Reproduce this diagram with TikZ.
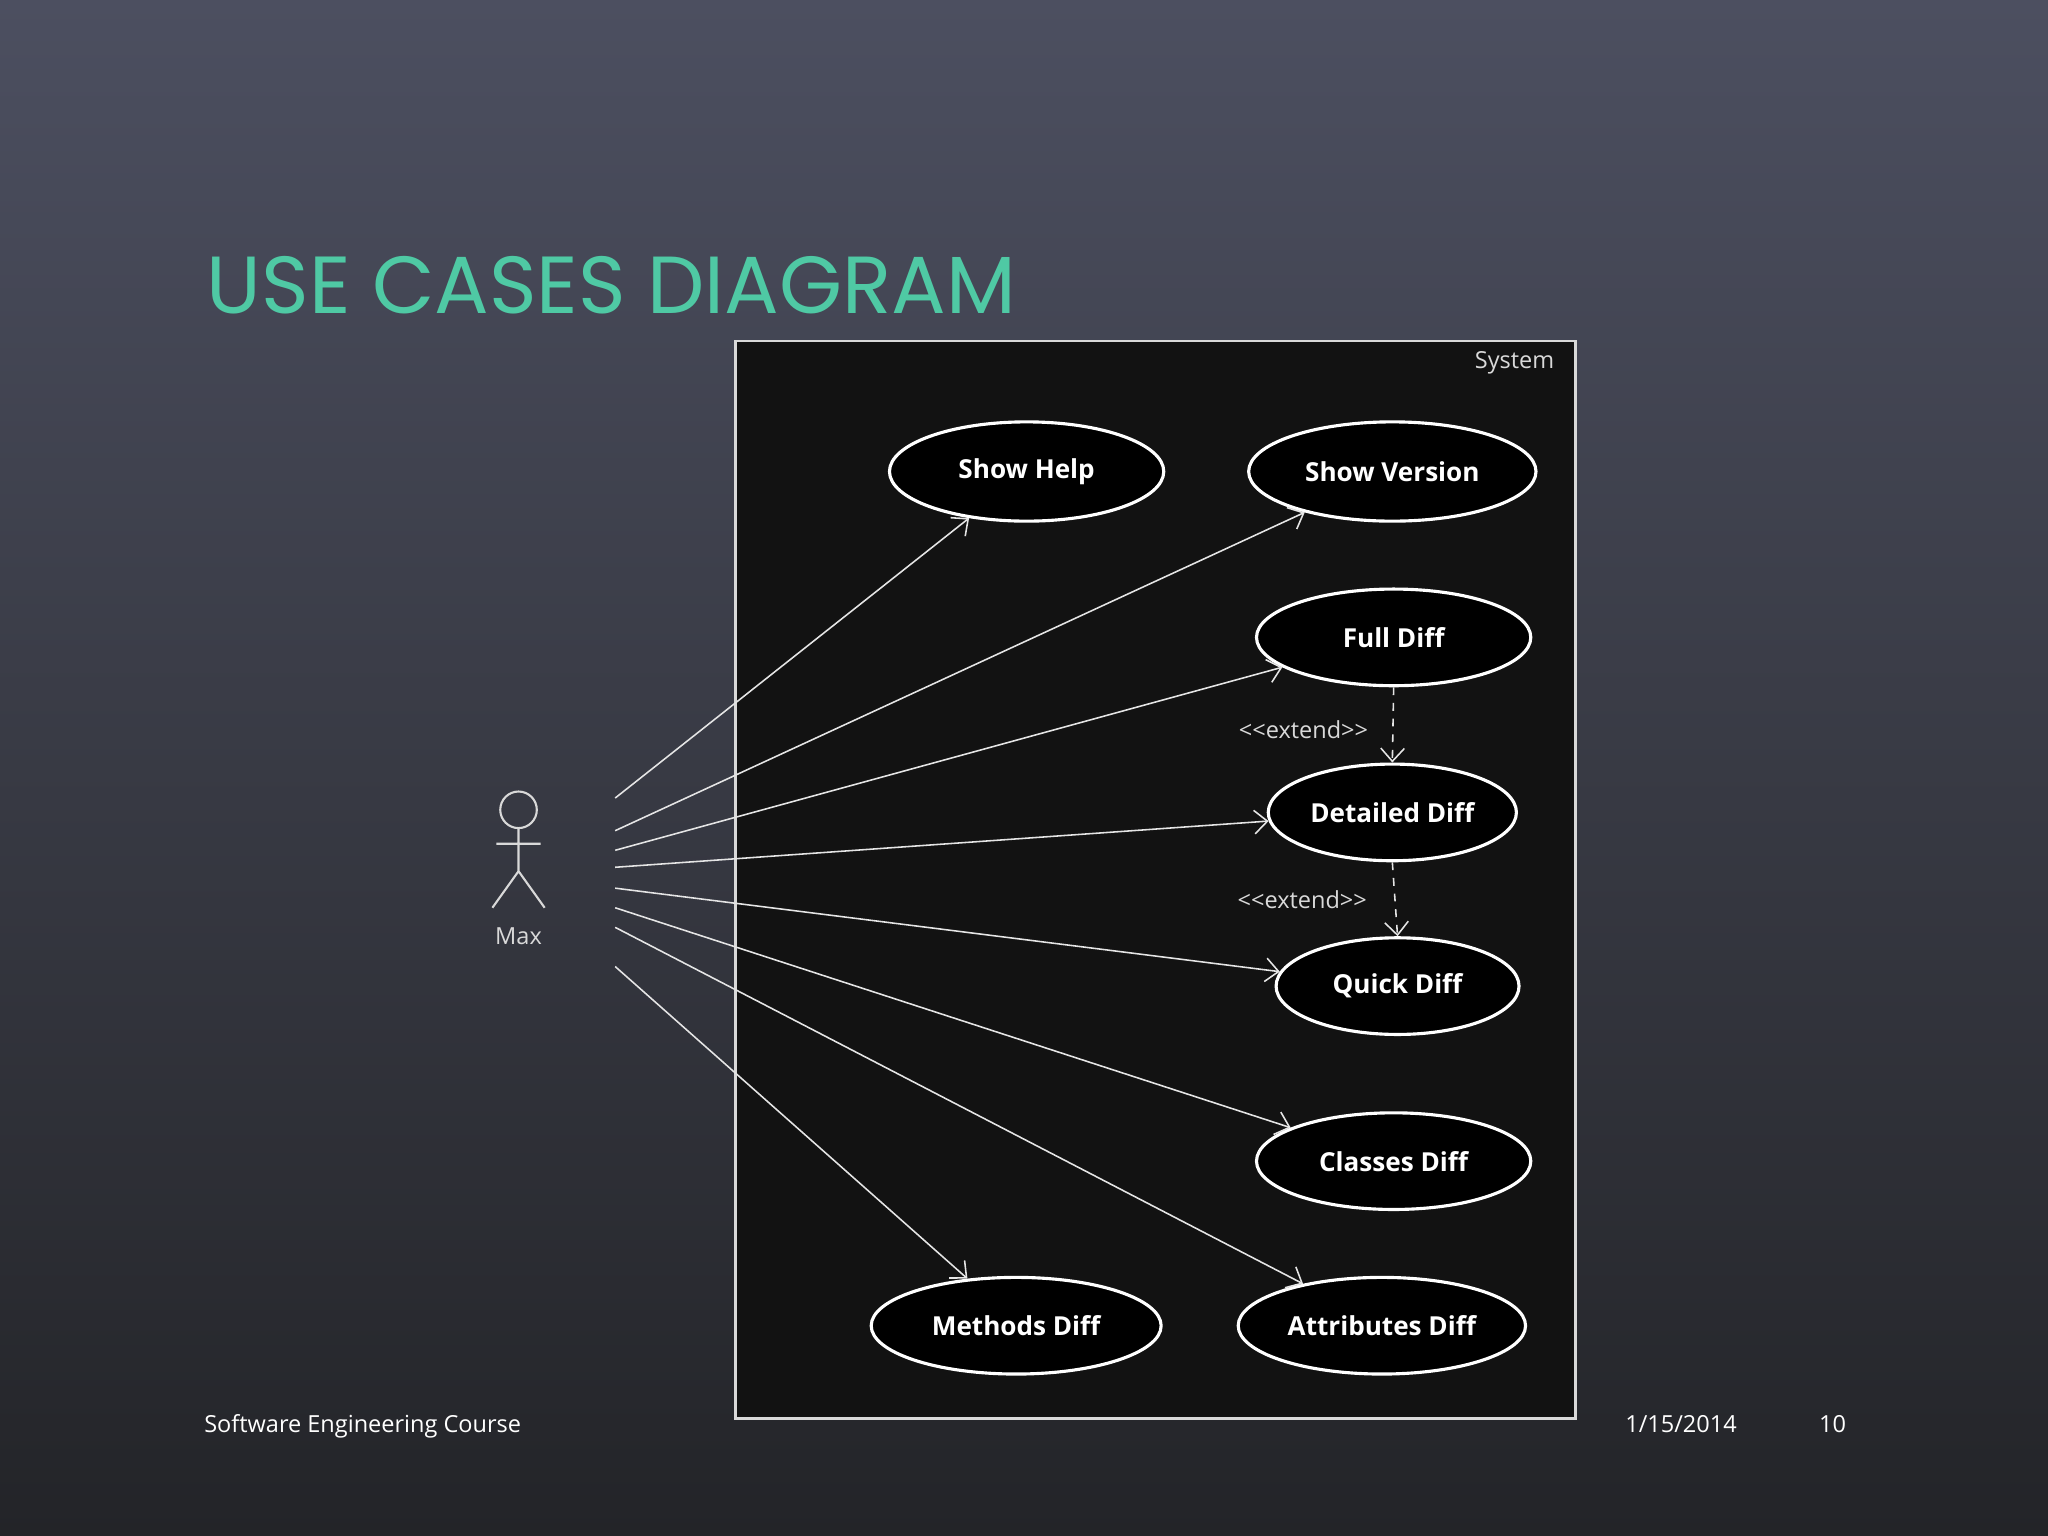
\documentclass[tikz,border=0pt]{standalone}
\usepackage{fontspec}
\setmainfont{Open Sans}
\newfontfamily\titlefont{Poppins}
\usetikzlibrary{shapes.geometric,arrows.meta}
\definecolor{teal1}{HTML}{4FC9A4}
\definecolor{bgtop}{HTML}{4C4F60}
\definecolor{bgmid}{HTML}{383A44}
\definecolor{bgbot}{HTML}{232428}
\begin{document}
\begin{tikzpicture}[x=0.5pt,y=-0.5pt,
  uc/.style={draw=white,line width=1.2pt,fill=black,ellipse,inner sep=0pt,text=white,font=\bfseries\fontsize{10}{12}\selectfont},
  assoc/.style={draw=white!90!black,line width=0.6pt,-{Straight Barb[length=5pt,width=9pt]}},
  ext/.style={draw=white!90!black,line width=0.6pt,dashed,-{Straight Barb[length=5pt,width=9pt]}},
  lbl/.style={text=white!85!black,font=\fontsize{9}{11}\selectfont}]
\shade[top color=bgtop, bottom color=bgbot, middle color=bgmid]
  (0,0) rectangle (1568,1176);
\useasboundingbox (0,0) rectangle (1568,1176);
\node[anchor=base west,text=teal1,font=\titlefont\fontsize{31}{34}\selectfont,inner sep=0] (title) at (158,240) {USE CASES DIAGRAM};
\node[draw=white!85!black,fill=black!93,line width=1pt,minimum width=643*0.5pt,minimum height=825*0.5pt,inner sep=0,anchor=north west] (sys) at (562,260) {};
\node[lbl,anchor=east] (syslbl) at (1197,278) {System};
\node[uc,minimum width=105pt,minimum height=38pt] (sh) at (786,361) {Show Help};
\node[uc,minimum width=110pt,minimum height=38pt] (sv) at (1066,361) {Show Version};
\node[uc,minimum width=105pt,minimum height=37pt] (fd) at (1067,488) {Full Diff};
\node[uc,minimum width=95pt,minimum height=37pt] (dd) at (1066,622) {Detailed Diff};
\node[uc,minimum width=93pt,minimum height=37pt] (qd) at (1070,755) {Quick Diff};
\node[uc,minimum width=105pt,minimum height=37pt] (cd) at (1067,889) {Classes Diff};
\node[uc,minimum width=111pt,minimum height=37pt] (md) at (778,1015) {Methods Diff};
\node[uc,minimum width=110pt,minimum height=37pt] (ad) at (1058,1015) {Attributes Diff};
% actor
\node[draw=white!85!black,circle,minimum size=14pt,inner sep=0,line width=0.8pt] (head) at (397,620) {};
\coordinate (hip) at (397,667);
\coordinate (la) at (380,646); \coordinate (ra) at (414,646);
\coordinate (ll) at (377,695); \coordinate (rl) at (417,695);
\draw[white!85!black,line width=0.8pt] (head.south) -- (hip) (la) -- (ra) (ll) -- (hip) -- (rl);
\node[lbl] (max) at (397,717) {Max};
\foreach \n/\y in {a1/611,a2/636,a3/651,a4/664,a5/680,a6/695,a7/710,a8/740}{\coordinate (\n) at (471,\y);}
\draw[assoc] (a1) -- (sh.219);
\draw[assoc] (a2) -- (sv.205);
\draw[assoc] (a3) -- (fd.195);
\draw[assoc] (a4) -- (dd.184);
\draw[assoc] (a5) -- (qd.173);
\draw[assoc] (a6) -- (cd.162);
\draw[assoc] (a7) -- (ad.152);
\draw[assoc] (a8) -- (md.136);
\draw[ext] (fd.south) -- (dd.north);
\draw[ext] (dd.south) -- (qd.north);
\node[lbl] (e1) at (998,559) {<{}<extend>{}>};
\node[lbl] (e2) at (997,689) {<{}<extend>{}>};
\node[anchor=base west,text=white,font=\fontsize{9}{11}\selectfont,inner sep=0] (f1) at (156,1097) {Software Engineering Course};
\node[anchor=base,text=white,font=\fontsize{9}{11}\selectfont,inner sep=0] (f2) at (1287,1097) {1/15/2014};
\node[anchor=base,text=white,font=\fontsize{9}{11}\selectfont,inner sep=0] (f3) at (1403,1097) {10};
\end{tikzpicture}
\end{document}
